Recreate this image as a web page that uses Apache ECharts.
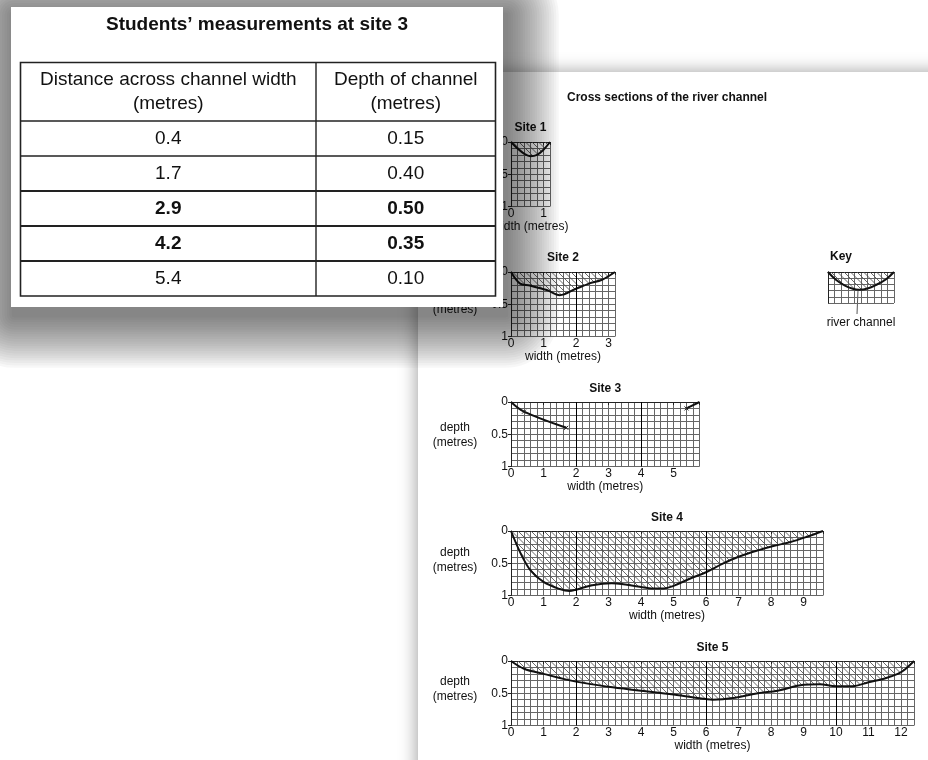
<!DOCTYPE html>
<html><head><meta charset="utf-8">
<script src="https://cdn.jsdelivr.net/npm/echarts@6/dist/echarts.min.js"></script>
<style>html,body{margin:0;padding:0;background:#fff}#c{width:928px;height:760px}</style>
</head><body><div id="c"></div>
<script>
// ---------- data ----------
const tableTitle = 'Students\u2019 measurements at site 3';
const tableHeaders = [['Distance across channel width', '(metres)'], ['Depth of channel', '(metres)']];
const site3Distance = [0.4, 1.7, 2.9, 4.2, 5.4];
const site3Depth = [0.15, 0.40, 0.50, 0.35, 0.10];
const boldRows = [2, 3];

const chartTitle = 'Cross sections of the river channel';
const siteNames = ['Site 1', 'Site 2', 'Site 3', 'Site 4', 'Site 5'];
const siteMaxWidth = [1.2, 3.2, 5.8, 9.6, 12.4];

const site1Width = [0, 0.2, 0.4, 0.6, 0.8, 1.0, 1.2];
const site1Depth = [0, 0.1, 0.18, 0.22, 0.2, 0.12, 0];

const site2Width = [0, 0.28, 0.58, 1.1, 1.5, 2.0, 2.4, 2.8, 3.2];
const site2Depth = [0, 0.18, 0.21, 0.28, 0.36, 0.26, 0.18, 0.12, 0];

const site3BankLeft = [0, 0];
const site3BankRight = [5.8, 0];

const site4Width = [0, 0.3, 0.6, 1.0, 1.5, 1.8, 2.0, 2.5, 3.1, 3.4, 3.9, 4.4, 4.7, 5.0, 5.5, 6.0, 6.5, 7.0, 7.6, 8.1, 8.6, 9.1, 9.6];
const site4Depth = [0, 0.35, 0.61, 0.79, 0.9, 0.93, 0.91, 0.84, 0.81, 0.82, 0.86, 0.89, 0.89, 0.85, 0.74, 0.64, 0.51, 0.40, 0.30, 0.23, 0.17, 0.09, 0];

const site5Width = [0, 0.4, 1.0, 2.0, 3.0, 4.0, 5.0, 6.0, 6.2, 6.9, 7.6, 8.2, 9.0, 9.5, 10.0, 10.5, 11.0, 11.5, 11.9, 12.1, 12.4];
const site5Depth = [0, 0.12, 0.2, 0.32, 0.4, 0.46, 0.52, 0.59, 0.6, 0.57, 0.5, 0.46, 0.37, 0.36, 0.39, 0.39, 0.33, 0.27, 0.2, 0.14, 0];

const majorLines = [[], [2], [2, 4], [2, 6], [2, 6, 10]];

const keyWidth = [0, 0.25, 0.5, 0.75, 0.95, 1.2, 1.45, 1.75, 2.0];
const keyDepth = [0, 0.26, 0.43, 0.54, 0.57, 0.53, 0.42, 0.24, 0];
const keyTitle = 'Key';
const keyLabel = 'river channel';

// ---------- layout (positions only) ----------
const FONT = '"Liberation Sans", Arial, Helvetica, sans-serif';
const FS = 12;
const PX_X = 32.5, PX_Y = 64.5, LEFT = 511;
const siteTops = [142, 272, 402, 531, 661];
const titleYs = [128, 258, 389, 518, 648];
const depthLabelYs = [null, [null, 310], [428, 443], [553, 568], [682, 697]];
const nameGaps = [10, 10, 10, 10, 11];

// hatch pattern
function makeHatch() {
  const s = 13;
  const cv = document.createElement('canvas');
  cv.width = s; cv.height = s;
  const ctx = cv.getContext('2d');
  ctx.strokeStyle = 'rgba(80,80,80,0.85)';
  ctx.lineWidth = 1;
  ctx.beginPath();
  ctx.moveTo(-1, -1); ctx.lineTo(s + 1, s + 1);
  ctx.moveTo(s / 2 - 1, -1); ctx.lineTo(s + 1, s / 2 + 1);
  ctx.moveTo(-1, s / 2 - 1); ctx.lineTo(s / 2 + 1, s + 1);
  ctx.stroke();
  return cv;
}
const hatch = { image: makeHatch(), repeat: 'repeat' };

const zip = (a, b) => a.map((v, i) => [v, b[i]]);
const isInt = v => Math.abs(v - Math.round(v)) < 1e-6;
const near = (v, t) => Math.abs(v - t) < 1e-6;

const grids = [], xAxes = [], yAxes = [], series = [], graphics = [];
const gridLineColor = '#666';
const axisText = { color: '#111', fontSize: FS, fontFamily: FONT };

function addGrid(left, top, width, height, maxX, xInt, yInt, withLabels, gap) {
  const gi = grids.length;
  grids.push({ left: left, top: top, width: width, height: height, containLabel: false });
  xAxes.push({ gridIndex: gi, type: 'value', min: 0, max: maxX, interval: xInt, position: 'bottom',
    axisLine: { show: true, lineStyle: { color: '#222', width: 1 } }, axisTick: { show: false }, axisLabel: { show: false },
    splitLine: { show: true, lineStyle: { color: gridLineColor, width: 1 } } });
  yAxes.push({ gridIndex: gi, type: 'value', min: 0, max: 1, interval: yInt, inverse: true, position: 'left',
    axisLine: { show: true, lineStyle: { color: '#222', width: 1 } }, axisTick: { show: false }, axisLabel: { show: false },
    splitLine: { show: true, lineStyle: { color: gridLineColor, width: 1 } } });
  const xi = xAxes.length - 1, yi = yAxes.length - 1;
  if (withLabels) {
    xAxes.push({ gridIndex: gi, type: 'value', min: 0, max: maxX, interval: 1, position: 'bottom',
      axisLine: { show: false }, axisTick: { show: true, length: 3, lineStyle: { color: '#222' } },
      splitLine: { show: false },
      axisLabel: Object.assign({ margin: 1, formatter: v => isInt(v) ? String(Math.round(v)) : '' }, axisText),
      name: 'width (metres)', nameLocation: 'middle', nameGap: gap, nameTextStyle: axisText });
    yAxes.push({ gridIndex: gi, type: 'value', min: 0, max: 1, interval: 0.5, inverse: true, position: 'left',
      axisLine: { show: false }, axisTick: { show: true, length: 3, lineStyle: { color: '#222' } },
      splitLine: { show: false },
      axisLabel: Object.assign({ margin: 3, formatter: v => near(v, 0) ? '0' : near(v, 0.5) ? '0.5' : near(v, 1) ? '1' : '' }, axisText) });
  }
  return { xi: xi, yi: yi };
}

const siteData = [zip(site1Width, site1Depth), zip(site2Width, site2Depth), null, zip(site4Width, site4Depth), zip(site5Width, site5Depth)];

for (let s = 0; s < 5; s++) {
  const maxX = siteMaxWidth[s];
  const ax = addGrid(LEFT, siteTops[s], maxX * PX_X, PX_Y, maxX, 0.2, 0.1, true, nameGaps[s]);
  const markLine = { silent: true, symbol: ['none', 'none'], label: { show: false },
    lineStyle: { color: '#000', type: 'solid', width: 1 }, emphasis: { disabled: true },
    data: majorLines[s].map(v => ({ xAxis: v })) };
  if (s === 2) {
    const cross = 'path://M0,0L10,10M10,0L0,10';
    const left = [{ value: site3BankLeft, symbol: 'none' }].concat(
      [0, 1].map(i => ({ value: [site3Distance[i], site3Depth[i]] })));
    const right = [{ value: [site3Distance[4], site3Depth[4]] }, { value: site3BankRight, symbol: 'none' }];
    [left, right].forEach((d, k) => series.push({ type: 'line', xAxisIndex: ax.xi, yAxisIndex: ax.yi, data: d,
      smooth: 0.35, symbol: cross, symbolSize: 4, showSymbol: true,
      itemStyle: { color: '#000', borderColor: '#222', borderWidth: 1 },
      lineStyle: { color: '#111', width: 2 }, silent: true, animation: false,
      markLine: k === 0 ? markLine : undefined }));
  } else {
    series.push({ type: 'line', xAxisIndex: ax.xi, yAxisIndex: ax.yi, data: siteData[s], smooth: 0.35,
      symbol: 'none', lineStyle: { color: '#111', width: 2 }, areaStyle: { color: hatch, opacity: 1 },
      silent: true, animation: false, markLine: markLine });
  }
  graphics.push({ type: 'text', x: LEFT + maxX * PX_X / 2, y: titleYs[s],
    style: { text: siteNames[s], fill: '#111', font: 'bold ' + FS + 'px ' + FONT, align: 'center', verticalAlign: 'middle' } });
  const dl = depthLabelYs[s];
  if (dl) {
    if (dl[0] != null) graphics.push({ type: 'text', x: 455, y: dl[0], style: { text: 'depth', fill: '#111', font: FS + 'px ' + FONT, align: 'center', verticalAlign: 'middle' } });
    graphics.push({ type: 'text', x: 455, y: dl[1], style: { text: '(metres)', fill: '#111', font: FS + 'px ' + FONT, align: 'center', verticalAlign: 'middle' } });
  }
}

// key
const kx = addGrid(828, 272, 66, 31, 2, 0.2, 0.2, false, 0);
series.push({ type: 'line', xAxisIndex: kx.xi, yAxisIndex: kx.yi, data: zip(keyWidth, keyDepth), smooth: 0.4,
  symbol: 'none', lineStyle: { color: '#111', width: 2 }, areaStyle: { color: hatch, opacity: 1 }, silent: true, animation: false });
graphics.push({ type: 'text', x: 841, y: 257, style: { text: keyTitle, fill: '#111', font: 'bold ' + FS + 'px ' + FONT, align: 'center', verticalAlign: 'middle' } });
graphics.push({ type: 'line', shape: { x1: 858, y1: 290, x2: 857, y2: 314 }, style: { stroke: '#555', lineWidth: 1 } });
graphics.push({ type: 'text', x: 861, y: 323, style: { text: keyLabel, fill: '#111', font: FS + 'px ' + FONT, align: 'center', verticalAlign: 'middle' } });

// main chart title
graphics.push({ type: 'text', x: 567, y: 98, style: { text: chartTitle, fill: '#111', font: 'bold ' + FS + 'px ' + FONT, align: 'left', verticalAlign: 'middle' } });

// page behind
graphics.unshift({ type: 'rect', z: -10, shape: { x: 418, y: 72, width: 700, height: 900 },
  style: { fill: '#fff', shadowBlur: 16, shadowColor: 'rgba(0,0,0,0.35)', shadowOffsetX: -2, shadowOffsetY: -1 } });

// table card (top layer)
const TZ = 1;
const tb = { x: 20.5, y: 62.5, w: 475, colX: 316, headH: 58.5, rowH: 35 };
const card = { x: 11, y: 7, w: 492, h: 300 };
// layered soft shadow
for (let i = 1; i <= 22; i++) {
  const e = i * 2.4;
  graphics.push({ type: 'rect', zlevel: TZ, z: 0, silent: true,
    shape: { x: card.x + 3 - e, y: card.y + 8 - e, width: card.w + 2 * e, height: card.h + 2 * e, r: e },
    style: { fill: 'rgba(0,0,0,0.03)' } });
}
graphics.push({ type: 'rect', zlevel: TZ, z: 1, shape: { x: card.x, y: card.y, width: card.w, height: card.h },
  style: { fill: '#fff' } });
graphics.push({ type: 'text', zlevel: TZ, z: 3, x: 257, y: 25,
  style: { text: tableTitle, fill: '#111', font: 'bold 19px ' + FONT, align: 'center', verticalAlign: 'middle' } });
const nRows = site3Distance.length;
const tableBottom = tb.y + tb.headH + nRows * tb.rowH;
graphics.push({ type: 'rect', zlevel: TZ, z: 3, shape: { x: tb.x, y: tb.y, width: tb.w, height: tableBottom - tb.y },
  style: { fill: 'none', stroke: '#222', lineWidth: 1.6 } });
graphics.push({ type: 'line', zlevel: TZ, z: 3, shape: { x1: tb.colX, y1: tb.y, x2: tb.colX, y2: tableBottom }, style: { stroke: '#222', lineWidth: 1.4 } });
for (let r = 0; r < nRows; r++) {
  const yTop = tb.y + tb.headH + r * tb.rowH;
  const thick = boldRows.indexOf(r) >= 0 || boldRows.indexOf(r - 1) >= 0;
  graphics.push({ type: 'line', zlevel: TZ, z: 3, shape: { x1: tb.x, y1: yTop, x2: tb.x + tb.w, y2: yTop }, style: { stroke: '#222', lineWidth: thick ? 2 : 1.3 } });
  const bold = boldRows.indexOf(r) >= 0;
  const f = (bold ? 'bold ' : '') + '19px ' + FONT;
  graphics.push({ type: 'text', zlevel: TZ, z: 3, x: (tb.x + tb.colX) / 2, y: yTop + tb.rowH / 2 + 0.5,
    style: { text: site3Distance[r].toFixed(1), fill: '#111', font: f, align: 'center', verticalAlign: 'middle' } });
  graphics.push({ type: 'text', zlevel: TZ, z: 3, x: (tb.colX + tb.x + tb.w) / 2, y: yTop + tb.rowH / 2 + 0.5,
    style: { text: site3Depth[r].toFixed(2), fill: '#111', font: f, align: 'center', verticalAlign: 'middle' } });
}
tableHeaders.forEach((h, c) => {
  const cx = c === 0 ? (tb.x + tb.colX) / 2 : (tb.colX + tb.x + tb.w) / 2;
  h.forEach((line, k) => graphics.push({ type: 'text', zlevel: TZ, z: 3, x: cx, y: 80 + k * 23.5,
    style: { text: line, fill: '#111', font: '19px ' + FONT, align: 'center', verticalAlign: 'middle' } }));
});

const chart = echarts.init(document.getElementById('c'), null, { renderer: 'canvas' });
chart.setOption({
  backgroundColor: '#fff',
  animation: false,
  grid: grids, xAxis: xAxes, yAxis: yAxes, series: series,
  graphic: { elements: graphics }
});
</script></body></html>
